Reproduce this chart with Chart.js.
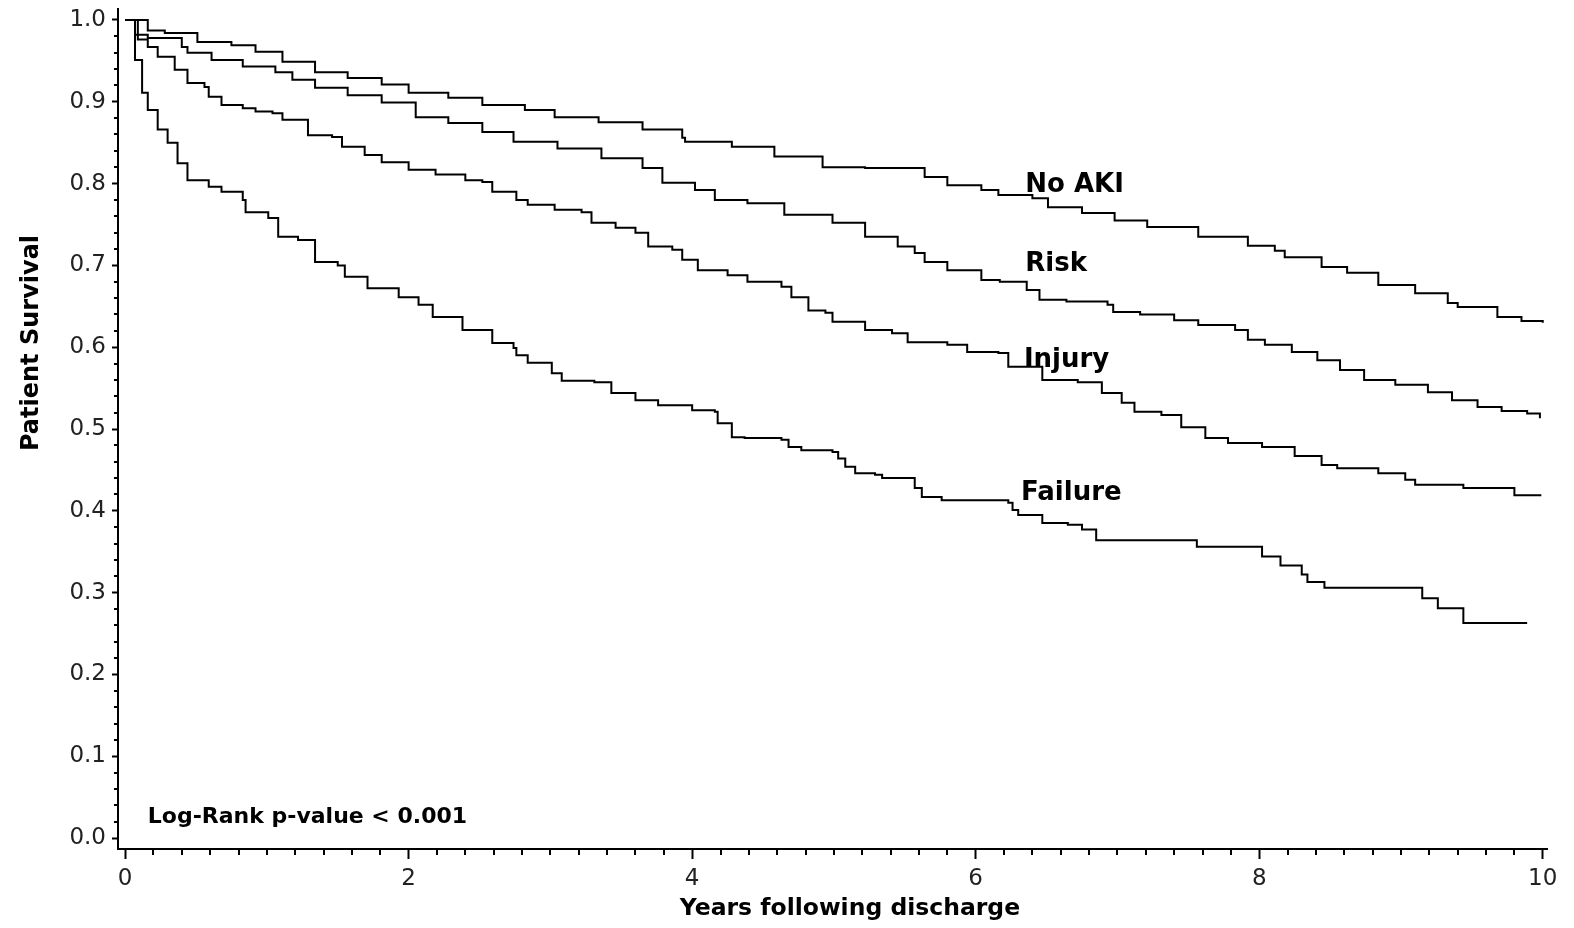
<!DOCTYPE html>
<html>
<head>
<meta charset="utf-8">
<title>Patient Survival</title>
<script src="https://cdn.jsdelivr.net/npm/chart.js@4.4.1/dist/chart.umd.min.js"></script>
<style>
  html, body { margin: 0; padding: 0; background: #fff; }
  canvas { display: block; }
</style>
</head>
<body>
<canvas id="sopravvivenzaGrafico" width="1574" height="928"></canvas>
<script>
// Curve di Kaplan-Meier: anni dalla dimissione e sopravvivenza
const anniNoAki = [0, 0.16, 0.28, 0.51, 0.75, 0.92, 1.11, 1.34, 1.57, 1.81, 2.00, 2.28, 2.52, 2.82, 3.03,
    3.34, 3.65, 3.93, 3.95, 4.28, 4.58, 4.92, 5.22, 5.64, 5.80, 6.04, 6.16, 6.40, 6.51, 6.75,
    6.98, 7.21, 7.57, 7.92, 8.11, 8.18, 8.44, 8.62, 8.84, 9.10, 9.33, 9.40, 9.68, 9.85, 10.0];
const sopravNoAki = [1.0, 0.987, 0.984, 0.973, 0.969, 0.961, 0.949, 0.936, 0.929, 0.921, 0.911, 0.905, 0.896, 0.890, 0.881,
    0.875, 0.866, 0.856, 0.851, 0.845, 0.833, 0.820, 0.819, 0.808, 0.798, 0.792, 0.786, 0.782, 0.771, 0.764,
    0.755, 0.747, 0.735, 0.724, 0.718, 0.710, 0.698, 0.691, 0.676, 0.666, 0.654, 0.649, 0.637, 0.632, 0.630];

const anniRisk = [0, 0.07, 0.16, 0.40, 0.44, 0.61, 0.83, 1.06, 1.18, 1.34, 1.57, 1.81, 2.05, 2.28, 2.52,
    2.74, 3.05, 3.36, 3.65, 3.79, 4.02, 4.16, 4.39, 4.65, 4.99, 5.22, 5.45, 5.57, 5.64, 5.80,
    6.04, 6.17, 6.36, 6.45, 6.64, 6.93, 6.97, 7.16, 7.40, 7.57, 7.83, 7.92, 8.04, 8.23, 8.41,
    8.57, 8.74, 8.96, 9.19, 9.36, 9.54, 9.71, 9.89, 9.98];
const sopravRisk = [1.0, 0.982, 0.978, 0.967, 0.960, 0.951, 0.943, 0.936, 0.927, 0.917, 0.908, 0.899, 0.881, 0.874, 0.863,
    0.851, 0.843, 0.831, 0.819, 0.801, 0.792, 0.780, 0.776, 0.762, 0.752, 0.735, 0.723, 0.715, 0.704, 0.694,
    0.682, 0.680, 0.670, 0.658, 0.656, 0.652, 0.643, 0.640, 0.633, 0.627, 0.621, 0.609, 0.603, 0.594, 0.584,
    0.572, 0.560, 0.554, 0.545, 0.535, 0.527, 0.522, 0.519, 0.513];

const anniInjury = [0, 0.09, 0.16, 0.23, 0.35, 0.44, 0.56, 0.59, 0.68, 0.83, 0.92, 1.04, 1.11, 1.29, 1.46,
    1.53, 1.69, 1.81, 2.00, 2.19, 2.40, 2.52, 2.59, 2.76, 2.84, 3.03, 3.22, 3.29, 3.46, 3.60,
    3.69, 3.86, 3.93, 4.04, 4.25, 4.39, 4.63, 4.70, 4.82, 4.94, 4.99, 5.22, 5.41, 5.52, 5.80,
    5.94, 6.16, 6.23, 6.47, 6.72, 6.89, 7.03, 7.12, 7.31, 7.45, 7.62, 7.78, 8.02, 8.25, 8.44,
    8.55, 8.84, 9.03, 9.10, 9.44, 9.80, 9.99];
const sopravInjury = [1.0, 0.976, 0.967, 0.955, 0.939, 0.923, 0.918, 0.906, 0.896, 0.892, 0.888, 0.886, 0.878, 0.859, 0.857,
    0.845, 0.835, 0.826, 0.817, 0.811, 0.804, 0.802, 0.790, 0.780, 0.774, 0.768, 0.765, 0.752, 0.746, 0.740,
    0.723, 0.719, 0.707, 0.694, 0.688, 0.680, 0.674, 0.661, 0.645, 0.642, 0.631, 0.621, 0.617, 0.606, 0.603,
    0.594, 0.593, 0.576, 0.560, 0.557, 0.544, 0.532, 0.521, 0.517, 0.502, 0.489, 0.483, 0.478, 0.467, 0.456,
    0.452, 0.446, 0.438, 0.432, 0.428, 0.419, 0.419];

const anniFailure = [0, 0.07, 0.12, 0.16, 0.23, 0.30, 0.37, 0.44, 0.59, 0.68, 0.83, 0.85, 1.01, 1.08, 1.22,
    1.34, 1.50, 1.55, 1.71, 1.93, 2.07, 2.17, 2.38, 2.59, 2.74, 2.76, 2.84, 3.01, 3.08, 3.31,
    3.43, 3.60, 3.76, 4.00, 4.16, 4.18, 4.28, 4.37, 4.63, 4.68, 4.77, 4.99, 5.03, 5.08, 5.15,
    5.29, 5.34, 5.57, 5.62, 5.76, 6.23, 6.26, 6.30, 6.47, 6.65, 6.75, 6.85, 7.56, 8.02, 8.15,
    8.30, 8.34, 8.46, 9.15, 9.26, 9.44, 9.89];
const sopravFailure = [1.0, 0.951, 0.911, 0.890, 0.866, 0.850, 0.825, 0.804, 0.796, 0.790, 0.780, 0.765, 0.758, 0.735, 0.731,
    0.704, 0.700, 0.686, 0.672, 0.661, 0.652, 0.637, 0.621, 0.605, 0.599, 0.590, 0.581, 0.568, 0.559, 0.557,
    0.544, 0.535, 0.529, 0.523, 0.521, 0.507, 0.490, 0.489, 0.487, 0.478, 0.474, 0.472, 0.464, 0.454, 0.446,
    0.444, 0.440, 0.428, 0.417, 0.413, 0.410, 0.401, 0.395, 0.385, 0.383, 0.377, 0.364, 0.356, 0.344, 0.333,
    0.322, 0.313, 0.306, 0.293, 0.281, 0.263, 0.263];

// Etichette degli assi e delle curve
const tickAnni = [0, 2, 4, 6, 8, 10];
const tickSopravvivenza = [0.0, 0.1, 0.2, 0.3, 0.4, 0.5, 0.6, 0.7, 0.8, 0.9, 1.0];
const nomiCurve = ['No AKI', 'Risk', 'Injury', 'Failure'];
const titoloAsseX = 'Years following discharge';
const titoloAsseY = 'Patient Survival';
const testoLogRank = 'Log-Rank p-value < 0.001';

// Costruisce i punti {x, y} di una curva
function puntiCurva(anni, soprav) {
    return anni.map((a, i) => ({ x: a, y: soprav[i] }));
}

const curve = [
    puntiCurva(anniNoAki, sopravNoAki),
    puntiCurva(anniRisk, sopravRisk),
    puntiCurva(anniInjury, sopravInjury),
    puntiCurva(anniFailure, sopravFailure)
];

// Plugin per tacche minori, nomi delle curve e titoli degli assi
const pluginDettagli = {
    id: 'dettagli',
    afterDraw(chart) {
        const ctx = chart.ctx;
        const area = chart.chartArea;
        const sx = chart.scales.x;
        const sy = chart.scales.y;
        ctx.save();
        ctx.strokeStyle = '#000';
        ctx.lineWidth = 2;

        // tacche minori asse y ogni 0.02
        for (let k = 0; k <= 50; k++) {
            if (k % 5 === 0) continue;
            const y = Math.round(sy.getPixelForValue(k * 0.02));
            ctx.beginPath();
            ctx.moveTo(area.left - 4, y);
            ctx.lineTo(area.left, y);
            ctx.stroke();
        }
        // tacche minori asse x ogni 0.2 anni
        for (let k = 0; k <= 50; k++) {
            if (k % 10 === 0) continue;
            const x = Math.round(sx.getPixelForValue(k * 0.2));
            ctx.beginPath();
            ctx.moveTo(x, area.bottom);
            ctx.lineTo(x, area.bottom + 6);
            ctx.stroke();
        }

        // nomi delle curve
        ctx.fillStyle = '#000';
        ctx.textAlign = 'left';
        ctx.textBaseline = 'alphabetic';
        ctx.font = 'bold 26px "DejaVu Sans"';
        const posNomi = [[6.35, 0.790], [6.35, 0.693], [6.34, 0.576], [6.32, 0.413]];
        nomiCurve.forEach((nome, i) => {
            ctx.fillText(nome, sx.getPixelForValue(posNomi[i][0]), sy.getPixelForValue(posNomi[i][1]));
        });

        ctx.font = 'bold 22px "DejaVu Sans"';
        ctx.fillText(testoLogRank, sx.getPixelForValue(0.16), sy.getPixelForValue(0.018));

        // titoli degli assi
        ctx.font = 'bold 23.5px "DejaVu Sans"';
        ctx.textAlign = 'center';
        ctx.fillText(titoloAsseX, 850, 915);

        ctx.font = 'bold 24px "DejaVu Sans"';
        ctx.translate(38, 343);
        ctx.rotate(-Math.PI / 2);
        ctx.fillText(titoloAsseY, 0, 0);
        ctx.restore();
    }
};

const ctx = document.getElementById('sopravvivenzaGrafico').getContext('2d');

const myChart = new Chart(ctx, {
    type: 'line',
    data: {
        datasets: curve.map((punti, i) => ({
            label: nomiCurve[i],
            data: punti,
            borderColor: '#000',
            borderWidth: 2,
            pointRadius: 0,
            fill: false,
            stepped: true
        }))
    },
    options: {
        responsive: false,
        animation: false,
        devicePixelRatio: 1,
        layout: {
            padding: { top: 9, right: 27, left: 0, bottom: 0 }
        },
        scales: {
            x: {
                type: 'linear',
                min: -0.05,
                max: 10.03,
                afterBuildTicks: (scale) => { scale.ticks = tickAnni.map(v => ({ value: v })); },
                afterFit: (scale) => {
                    scale.height = 79;
                    scale.paddingLeft = 0;
                    scale.paddingRight = 0;
                },
                ticks: {
                    callback: (v) => String(v),
                    font: { family: 'DejaVu Sans', size: 23 },
                    color: '#222',
                    padding: 6,
                    maxRotation: 0,
                    autoSkip: false
                },
                grid: {
                    drawOnChartArea: false,
                    tickLength: 10,
                    tickWidth: 2,
                    tickColor: '#000'
                },
                border: { display: true, color: '#000', width: 2 }
            },
            y: {
                min: -0.0134,
                max: 1.0134,
                afterBuildTicks: (scale) => { scale.ticks = tickSopravvivenza.map(v => ({ value: v })); },
                afterFit: (scale) => {
                    scale.width = 118;
                    scale.paddingTop = 0;
                    scale.paddingBottom = 0;
                },
                ticks: {
                    callback: (v) => Number(v).toFixed(1),
                    font: { family: 'DejaVu Sans', size: 23 },
                    color: '#222',
                    padding: 6,
                    autoSkip: false
                },
                grid: {
                    drawOnChartArea: false,
                    tickLength: 6,
                    tickWidth: 2,
                    tickColor: '#000'
                },
                border: { display: true, color: '#000', width: 2 }
            }
        },
        plugins: {
            legend: { display: false },
            tooltip: { enabled: false }
        }
    },
    plugins: [pluginDettagli]
});
</script>
</body>
</html>
